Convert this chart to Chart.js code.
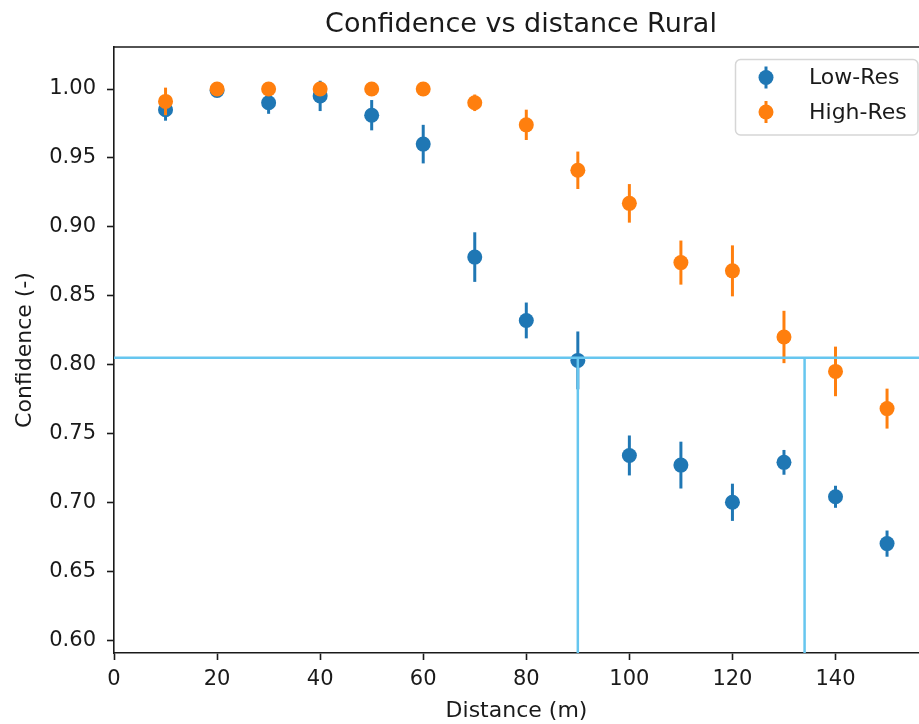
<!DOCTYPE html>
<html>
<head>
<meta charset="utf-8">
<title>Confidence vs distance Rural</title>
<script src="https://cdn.jsdelivr.net/npm/chart.js@4.4.1/dist/chart.umd.min.js"></script>
<style>
  html, body { margin: 0; padding: 0; background: #fff; overflow: hidden; }
  canvas { display: block; }
</style>
</head>
<body>
<canvas id="confidenceChart" width="919" height="724"></canvas>
<script>
const distances = [10, 20, 30, 40, 50, 60, 70, 80, 90, 100, 110, 120, 130, 140, 150];

const lowRes    = [0.985, 0.999, 0.990, 0.995, 0.981, 0.960, 0.878, 0.832, 0.803, 0.734, 0.727, 0.700, 0.729, 0.704, 0.670];
const lowResErr = [0.008, 0.001, 0.008, 0.011, 0.011, 0.014, 0.018, 0.013, 0.021, 0.0145, 0.017, 0.0135, 0.009, 0.008, 0.0095];

const highRes    = [0.991, 1.000, 1.000, 1.000, 1.000, 1.000, 0.990, 0.974, 0.941, 0.917, 0.874, 0.868, 0.820, 0.795, 0.768];
const highResErr = [0.010, 0.001, 0.001, 0.001, 0.001, 0.001, 0.006, 0.011, 0.0136, 0.014, 0.016, 0.0185, 0.019, 0.018, 0.0145];

// threshold level and where each series drops below it
const threshold = 0.805;
const crossings = [90, 134];

const xTicks = [0, 20, 40, 60, 80, 100, 120, 140];
const yTicks = [0.60, 0.65, 0.70, 0.75, 0.80, 0.85, 0.90, 0.95, 1.00];

const X_MIN = 0, X_MAX = 156.2;
const Y_MIN = 0.5906, Y_MAX = 1.0305;

const BLUE = '#1f77b4';
const ORANGE = '#ff7f0e';
const GUIDE = '#66c6ef';
const INK = '#1a1a1a';
const FONT = "'DejaVu Sans', sans-serif";

Chart.defaults.font.family = FONT;
Chart.defaults.font.size = 21;
Chart.defaults.color = INK;

const toPoints = (ys) => distances.map((d, i) => ({ x: d, y: ys[i] }));

// vertical error bars, drawn just before each dataset's markers
const errorBars = {
  id: 'errorBars',
  beforeDatasetDraw(chart, args) {
    const ds = chart.data.datasets[args.index];
    if (!ds.errors) return;
    const { ctx, scales: { x, y } } = chart;
    ctx.save();
    ctx.strokeStyle = ds.backgroundColor;
    ctx.lineWidth = 3;
    ds.data.forEach((p, i) => {
      const px = x.getPixelForValue(p.x);
      ctx.beginPath();
      ctx.moveTo(px, y.getPixelForValue(p.y - ds.errors[i]));
      ctx.lineTo(px, y.getPixelForValue(p.y + ds.errors[i]));
      ctx.stroke();
    });
    ctx.restore();
  }
};

// top spine + title centred over the axes
const frame = {
  id: 'frame',
  afterDraw(chart) {
    const { ctx, chartArea } = chart;
    ctx.save();
    ctx.strokeStyle = INK;
    ctx.lineWidth = 1.6;
    ctx.beginPath();
    ctx.moveTo(chartArea.left - 0.8, chartArea.top);
    ctx.lineTo(chartArea.right + 2, chartArea.top);
    ctx.stroke();

    ctx.fillStyle = INK;
    ctx.font = '27px ' + FONT;
    ctx.textAlign = 'center';
    ctx.textBaseline = 'alphabetic';
    ctx.fillText('Confidence vs distance Rural', 521, 32);
    ctx.restore();
  }
};

// boxed legend in the upper right corner of the plot
const boxLegend = {
  id: 'boxLegend',
  afterDraw(chart) {
    const { ctx } = chart;
    const items = chart.data.datasets.filter(ds => ds.errors);
    const left = 735.5, top = 59.5, w = 182.5, h = 75.5, r = 5;
    ctx.save();
    ctx.beginPath();
    ctx.roundRect(left, top, w, h, r);
    ctx.fillStyle = 'rgba(255,255,255,0.8)';
    ctx.fill();
    ctx.strokeStyle = '#d6d6d6';
    ctx.lineWidth = 1.5;
    ctx.stroke();

    ctx.font = '22px ' + FONT;
    ctx.textAlign = 'left';
    ctx.textBaseline = 'middle';
    items.forEach((ds, i) => {
      const cy = 77.5 + i * 34.5;
      const cx = 766;
      ctx.strokeStyle = ds.backgroundColor;
      ctx.lineWidth = 3;
      ctx.beginPath();
      ctx.moveTo(cx, cy - 11);
      ctx.lineTo(cx, cy + 11);
      ctx.stroke();
      ctx.fillStyle = ds.backgroundColor;
      ctx.beginPath();
      ctx.arc(cx, cy, 7.5, 0, Math.PI * 2);
      ctx.fill();
      ctx.fillStyle = INK;
      ctx.fillText(ds.label, 809, cy + 1);
    });
    ctx.restore();
  }
};

const guideStyle = {
  showLine: true,
  borderColor: GUIDE,
  borderWidth: 2.5,
  pointRadius: 0,
  pointHoverRadius: 0,
  order: 0
};

const ctx = document.getElementById('confidenceChart').getContext('2d');
new Chart(ctx, {
  type: 'scatter',
  data: {
    datasets: [
      {
        label: 'Low-Res',
        data: toPoints(lowRes),
        errors: lowResErr,
        backgroundColor: BLUE,
        borderWidth: 0,
        pointRadius: 7.5,
        pointHoverRadius: 7.5,
        order: 2
      },
      {
        label: 'High-Res',
        data: toPoints(highRes),
        errors: highResErr,
        backgroundColor: ORANGE,
        borderWidth: 0,
        pointRadius: 7.5,
        pointHoverRadius: 7.5,
        order: 1
      },
      { ...guideStyle, data: [{ x: X_MIN, y: threshold }, { x: X_MAX, y: threshold }] },
      ...crossings.map(c => ({ ...guideStyle, data: [{ x: c, y: Y_MIN }, { x: c, y: threshold }] }))
    ]
  },
  options: {
    responsive: false,
    animation: false,
    layout: { autoPadding: false, padding: { top: 47, right: 0, left: 0, bottom: 0 } },
    plugins: {
      legend: { display: false },
      title: { display: false },
      tooltip: { enabled: false }
    },
    scales: {
      x: {
        type: 'linear',
        min: X_MIN,
        max: X_MAX,
        afterBuildTicks: (scale) => { scale.ticks = xTicks.map(v => ({ value: v })); },
        afterFit: (scale) => {
          scale.height = 71;
          scale.paddingLeft = 0;
          scale.paddingRight = 0;
        },
        ticks: { padding: 7, color: INK, callback: (v) => String(v) },
        grid: { drawOnChartArea: false, drawTicks: true, tickLength: 7, tickWidth: 1.6, tickColor: INK },
        border: { display: true, color: INK, width: 1.6 },
        title: { display: true, text: 'Distance (m)', color: INK, padding: 0, font: { size: 22 } }
      },
      y: {
        type: 'linear',
        min: Y_MIN,
        max: Y_MAX,
        afterBuildTicks: (scale) => { scale.ticks = yTicks.map(v => ({ value: v })); },
        afterFit: (scale) => { scale.width = 114; },
        ticks: { padding: 11, color: INK, callback: (v) => v.toFixed(2) },
        grid: { drawOnChartArea: false, drawTicks: true, tickLength: 7, tickWidth: 1.6, tickColor: INK },
        border: { display: true, color: INK, width: 1.6 },
        title: { display: true, text: 'Confidence (-)', color: INK, padding: { top: 12, bottom: 0 }, font: { size: 22 } }
      }
    }
  },
  plugins: [errorBars, frame, boxLegend]
});
</script>
</body>
</html>
